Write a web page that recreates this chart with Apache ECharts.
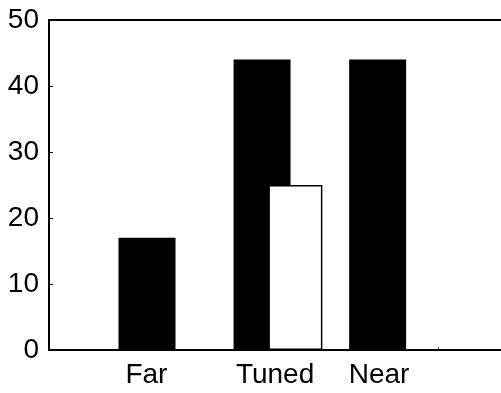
<!DOCTYPE html>
<html>
<head>
<meta charset="utf-8">
<script src="https://cdn.jsdelivr.net/npm/echarts@6/dist/echarts.min.js"></script>
<style>
  html, body { margin: 0; padding: 0; background: #fff; }
  #chart { width: 501px; height: 393px; }
</style>
</head>
<body>
<div id="chart"></div>
<script>
// Condition names and where their labels sit on the x scale
const categories = ['Far', 'Tuned', 'Near'];
const labelPositions = [0.959, 1.858, 2.585];

// Filled (black) bars: x location and value
const blackX = [0.963, 1.767, 2.575];
const blackValues = [17, 44, 44];

// Open (white) bar: x location and value
const whiteX = [2.0];
const whiteValues = [25];

// Axis ticks
const xTicks = [1, 2, 3];
const yTicks = [0, 10, 20, 30, 40, 50];

const X_MIN = 0.278, X_MAX = 3.5;

const chart = echarts.init(document.getElementById('chart'), null, { renderer: 'canvas' });

const fontFamily = '"Liberation Sans", Arial, Helvetica, sans-serif';

chart.setOption({
  animation: false,
  backgroundColor: '#ffffff',
  grid: {
    left: 49, top: 20, height: 330, width: 461,
    outerBoundsMode: 'none',
    containLabel: false,
    show: true, borderColor: '#000', borderWidth: 2, z: 5,
    backgroundColor: 'transparent'
  },
  xAxis: [
    {
      type: 'value',
      min: X_MIN, max: X_MAX,
      splitLine: { show: false },
      axisLine: { show: false },
      axisTick: {
        show: true, inside: true, length: 3,
        customValues: xTicks,
        lineStyle: { color: '#555', width: 1 }
      },
      axisLabel: {
        show: true,
        customValues: labelPositions,
        formatter: function (v) {
          let best = 0;
          for (let i = 1; i < labelPositions.length; i++) {
            if (Math.abs(labelPositions[i] - v) < Math.abs(labelPositions[best] - v)) best = i;
          }
          return categories[best];
        },
        color: '#000', fontSize: 28, fontFamily: fontFamily, margin: 11
      }
    },
    {
      type: 'value',
      min: X_MIN, max: X_MAX,
      show: false
    }
  ],
  yAxis: {
    type: 'value',
    min: 0, max: 50, interval: 10,
    splitLine: { show: false },
    axisLine: { show: false },
    axisTick: {
      show: true, inside: true, length: 4,
      customValues: yTicks,
      lineStyle: { color: '#000', width: 1 }
    },
    axisLabel: {
      color: '#000', fontSize: 28, fontFamily: fontFamily, margin: 10
    }
  },
  series: [
    {
      type: 'bar',
      xAxisIndex: 0,
      data: blackX.map((x, i) => [x, blackValues[i]]),
      barWidth: 57,
      itemStyle: { color: '#000', borderColor: '#000', borderWidth: 0 },
      z: 2
    },
    {
      type: 'bar',
      xAxisIndex: 1,
      data: whiteX.map((x, i) => [x, whiteValues[i]]),
      barWidth: 54,
      itemStyle: { color: '#fff', borderColor: '#000', borderWidth: 1.5 },
      z: 3
    }
  ]
});
</script>
</body>
</html>
